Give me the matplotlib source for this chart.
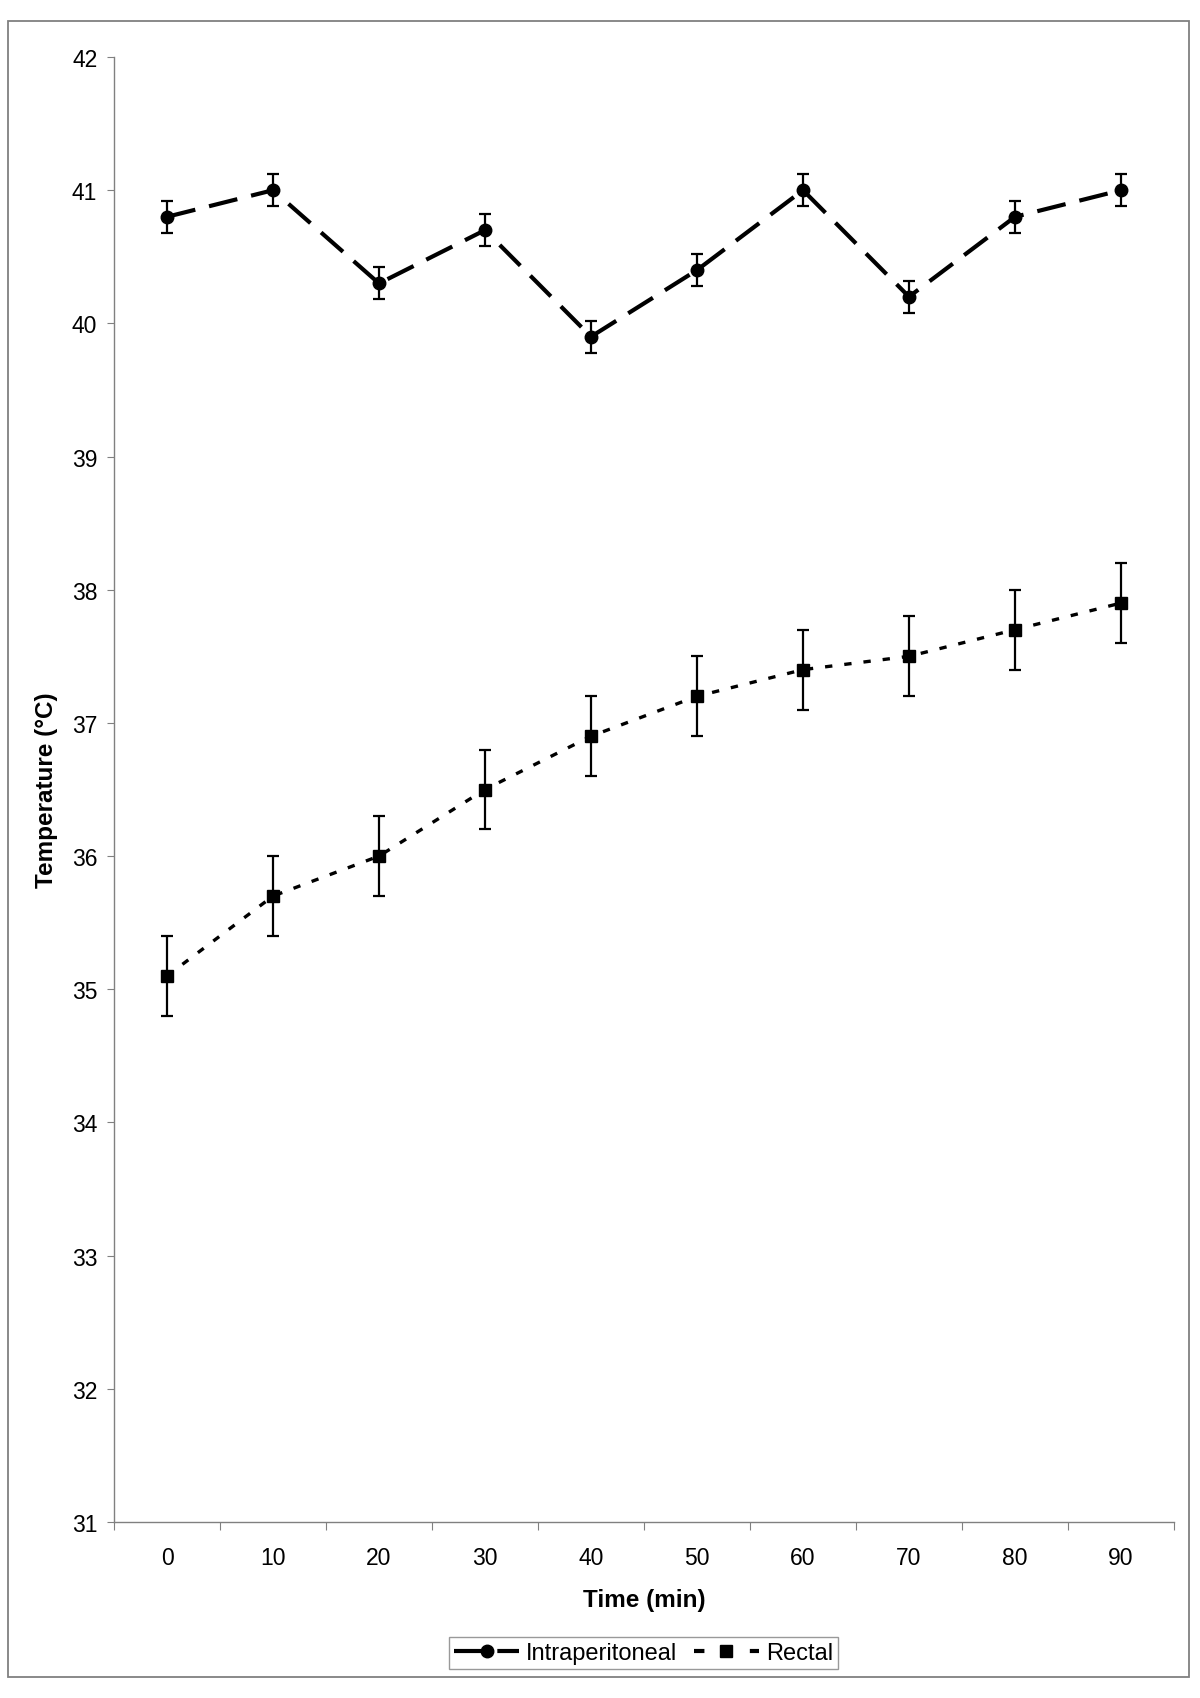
import matplotlib
matplotlib.use("Agg")
import matplotlib.pyplot as plt
from matplotlib.lines import Line2D
from matplotlib.patches import Rectangle

plt.rcParams['font.family'] = ['Liberation Sans', 'DejaVu Sans']

time_min = [0, 10, 20, 30, 40, 50, 60, 70, 80, 90]
intraperitoneal = [40.8, 41.0, 40.3, 40.7, 39.9, 40.4, 41.0, 40.2, 40.8, 41.0]
intraperitoneal_err = [0.12] * 10
rectal = [35.1, 35.7, 36.0, 36.5, 36.9, 37.2, 37.4, 37.5, 37.7, 37.9]
rectal_err = [0.3] * 10
y_ticks = [31, 32, 33, 34, 35, 36, 37, 38, 39, 40, 41, 42]

W, H = 1200, 1699
fig = plt.figure(figsize=(W / 100, H / 100), dpi=100)
ax = fig.add_axes([114 / W, 1 - 1523 / H, (1174 - 114) / W, (1523 - 58) / H])

grey = '#808080'
# outer frame
fig.patches.append(Rectangle((8 / W, 1 - 1678 / H), (1189 - 8) / W, (1678 - 22) / H,
                             transform=fig.transFigure, fill=False, edgecolor=grey, lw=1.3))

ip_style = (0, (7, 3.4))
ax.errorbar(time_min, intraperitoneal, yerr=intraperitoneal_err, color='black',
            lw=3, linestyle=ip_style, marker='o', markersize=9,
            ecolor='black', elinewidth=1.6, capsize=4.5, capthick=1.6, zorder=3)
ax.errorbar(time_min, rectal, yerr=rectal_err, color='black',
            lw=2.4, linestyle=(0, (2.2, 3.6)), marker='s', markersize=8.5,
            ecolor='black', elinewidth=1.6, capsize=4.5, capthick=1.6, zorder=3)

ax.set_xlim(-5, 95)
ax.set_ylim(31, 42)
ax.set_yticks(y_ticks)
ax.set_yticklabels([str(v) for v in y_ticks], fontsize=16.5)
ax.set_xticks([x - 5 for x in time_min] + [95])
ax.set_xticklabels([])
ax.set_xticks(time_min, minor=True)
ax.set_xticklabels([str(v) for v in time_min], minor=True, fontsize=16.5)
ax.tick_params(axis='x', which='minor', length=0, pad=17)
ax.tick_params(axis='x', which='major', length=6, color=grey, direction='out')
ax.tick_params(axis='y', length=5, color=grey, direction='out', pad=7)

for s in ['top', 'right']:
    ax.spines[s].set_visible(False)
for s in ['left', 'bottom']:
    ax.spines[s].set_color(grey)
    ax.spines[s].set_linewidth(1.0)

ax.set_xlabel('Time (min)', fontsize=17.5, fontweight='bold', labelpad=14)
ax.set_ylabel('Temperature (\u00b0C)', fontsize=17.5, fontweight='bold', labelpad=10)

handles = [
    Line2D([], [], color='black', lw=3, marker='o', markersize=9, linestyle=ip_style),
    Line2D([], [], color='black', lw=3, marker='s', markersize=9, linestyle=(0, (2.5, 4.2))),
]
leg = fig.legend(handles, ['Intraperitoneal', 'Rectal'], loc='center',
                 bbox_to_anchor=(643.5 / W, 1 - 1654 / H), ncol=2, fontsize=17,
                 frameon=True, fancybox=False, edgecolor=grey, handlelength=2.75,
                 handletextpad=0.3, columnspacing=0.7, borderpad=0.2)
leg.get_frame().set_linewidth(1.0)

fig.savefig('out.png', dpi=100, facecolor='white')
